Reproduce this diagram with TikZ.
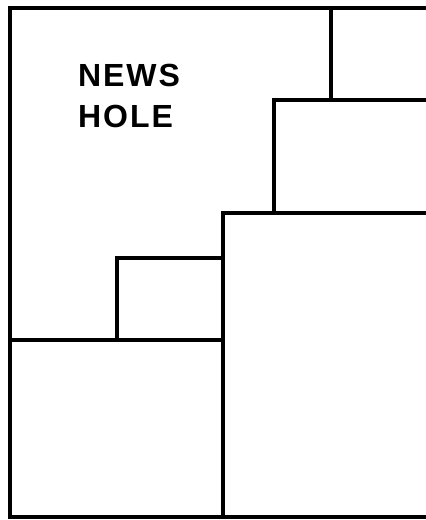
\documentclass[tikz,border=0pt]{standalone}
\usepackage{fontspec}
\setmainfont{Liberation Sans}
\begin{document}
\begin{tikzpicture}[x=1pt,y=-1pt,
  rule/.style={line width=3.8pt,line join=miter,line cap=rect},
  label/.style={font=\fontsize{32}{41}\selectfont\addfontfeatures{LetterSpace=6},align=left,inner sep=0pt,anchor=base west}]
\useasboundingbox (0,0) rectangle (426,520);
% outer frame (open on the right)
\draw[rule] (428,8) -- (10,8) -- (10,517) -- (428,517);
% staircase of blocks
\draw[rule] (331,8) -- (331,100);
\draw[rule] (428,100) -- (274,100) -- (274,213);
\draw[rule] (428,213) -- (223,213) -- (223,517);
\draw[rule] (223,258) -- (117,258) -- (117,340);
\draw[rule] (10,340) -- (223,340);
\node[label] (news) at (78,127) {\textbf{NEWS}\\\textbf{HOLE}};
\end{tikzpicture}
\end{document}
